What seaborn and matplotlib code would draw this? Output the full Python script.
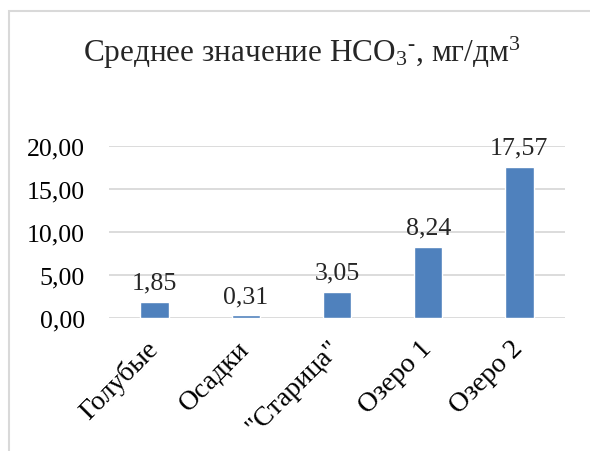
import matplotlib
matplotlib.use("Agg")
import matplotlib.pyplot as plt
from matplotlib.patches import Rectangle
from matplotlib.ticker import FuncFormatter, MultipleLocator
import seaborn as sns
import pandas as pd

categories = ["Голубые", "Осадки", "\"Старица\"", "Озеро 1", "Озеро 2"]
values = [1.85, 0.31, 3.05, 8.24, 17.57]

sns.set_theme(style="white")
plt.rcParams["font.family"] = ["Liberation Serif", "DejaVu Serif"]
plt.rcParams["mathtext.fontset"] = "custom"
plt.rcParams["mathtext.rm"] = "Liberation Serif"
plt.rcParams["mathtext.it"] = "Liberation Serif:italic"
plt.rcParams["mathtext.bf"] = "Liberation Serif:bold"

df = pd.DataFrame({"site": categories, "value": values})

fig = plt.figure(figsize=(5.9, 4.52), dpi=100)
ax = fig.add_axes([109 / 590, 1 - 319 / 452, (565 - 109) / 590, (319 - 147) / 452])

sns.barplot(data=df, x="site", y="value", color="#4F81BD", width=0.31,
            saturation=1, ax=ax, zorder=3)

ax.set_ylim(0, 20)
ax.yaxis.set_major_locator(MultipleLocator(5))
ax.yaxis.set_major_formatter(FuncFormatter(lambda v, _: f"{v:.2f}".replace(".", ",")))
ax.grid(axis="y", color="#D9D9D9", linewidth=1.3, zorder=0)
ax.set_axisbelow(True)
for s in ax.spines.values():
    s.set_visible(False)
ax.tick_params(axis="both", length=0, colors="black")
ax.tick_params(axis="y", pad=17.5, labelsize=18.6)
ax.tick_params(axis="x", pad=19, labelsize=20)
ax.set_xlabel("")
ax.set_ylabel("")
for lbl in ax.get_xticklabels():
    lbl.set_rotation(45)
    lbl.set_ha("right")
    lbl.set_va("center")
    lbl.set_rotation_mode("anchor")

for patch, v in zip(ax.patches, values):
    ax.annotate(f"{v:.2f}".replace(".", ","),
                (patch.get_x() + patch.get_width() / 2, patch.get_height()),
                xytext=(0, 6), textcoords="offset points",
                ha="center", va="bottom", fontsize=18.6, clip_on=False)

fig.text(302 / 590, 1 - 62 / 452,
         r"Среднее значение HCO$_{3}$$^{\text{-}}$, мг/дм$^{3}$",
         ha="center", va="baseline", fontsize=22.5)

fig.patches.append(Rectangle((9 / 590, -0.2), 2, 1 - 12 / 452 + 0.2,
                             transform=fig.transFigure, fill=False,
                             edgecolor="#D9D9D9", linewidth=1.5))

fig.savefig("out.png", dpi=100, facecolor="white")
